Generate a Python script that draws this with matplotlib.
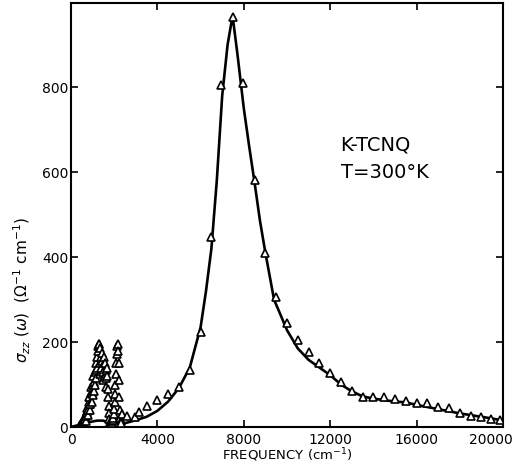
import matplotlib
matplotlib.use("Agg")
import matplotlib.pyplot as plt
import matplotlib.transforms as mtransforms

# measured points, low-frequency region (dense vibronic structure), 20 cm-1 apart
lf_freq = [400, 420, 440, 460, 480, 500, 520, 540, 560, 580, 600, 620, 640,
           660, 680, 700, 720, 740, 760, 780, 800, 820, 840, 860, 880, 900,
           920, 940, 960, 980, 1000, 1020, 1040, 1060, 1080, 1100, 1120, 1140,
           1160, 1180, 1200, 1220, 1240, 1260, 1280, 1300, 1320, 1340, 1360,
           1380, 1400, 1420, 1440, 1460, 1480, 1500, 1520, 1540, 1560, 1580,
           1600, 1620, 1640, 1660, 1680, 1700, 1720, 1740, 1760, 1780, 1800,
           1820, 1840, 1860, 1880, 1900, 1920, 1940, 1960, 1980, 2000, 2020,
           2040, 2060, 2080, 2100, 2120, 2140, 2160, 2180, 2200, 2220, 2240,
           2260, 2280, 2300, 2320]
lf_sigma = [4, 5, 6, 7, 8, 9, 10, 12, 14, 16, 18, 22, 26,
            20, 15, 25, 38, 45, 35, 28, 40, 58, 70, 55, 40, 55,
            80, 95, 80, 60, 75, 100, 120, 105, 85, 100, 130, 150,
            135, 115, 140, 165, 180, 190, 195, 195, 185, 150, 125,
            140, 165, 175, 155, 130, 110, 130, 150, 165, 150, 120,
            95, 115, 135, 140, 120, 90, 70, 50, 32, 20, 12,
            8, 6, 6, 8, 10, 13, 17, 22, 30, 42, 58,
            78, 100, 125, 150, 172, 190, 195, 180, 150, 110, 70,
            40, 22, 14, 10]

# measured points, electronic band
hf_freq = [2350, 2600, 2950, 3150, 3500, 4000, 4500, 5000, 5500, 6000, 6500,
           6950, 7480, 7950, 8500, 9000, 9470, 10000, 10500, 11000, 11500,
           12000, 12500, 13000, 13500, 14000, 14500, 15000, 15500, 16000,
           16500, 17000, 17500, 18000, 18500, 19000, 19450, 19870]
hf_sigma = [30, 27, 24, 35, 49, 64, 78, 93, 134, 224, 448,
            805, 965, 809, 581, 409, 307, 244, 205, 177, 150,
            128, 107, 85, 70, 70, 70, 65, 62, 56,
            56, 46, 44, 32, 26, 23, 18, 16]

# calculated curve
fit_freq = [0, 300, 600, 900, 1200, 1500, 1700, 1800, 1900, 2000, 2100, 2200,
            2300, 2500, 3000, 3500, 4000, 4500, 5000, 5500, 6000, 6250, 6500,
            6750, 7000, 7250, 7480, 7700, 8000, 8250, 8500, 8750, 9000, 9400,
            10000, 10500, 11000, 11500, 12000, 12500, 13000, 13500, 14000,
            14500, 15000, 15500, 16000, 16500, 17000, 17500, 18000, 18500,
            19000, 19500, 20000]
fit_sigma = [0, 4, 8, 12, 15, 15, 10, 6, 10, 20, 25, 12,
             6, 9, 16, 24, 38, 60, 92, 140, 235, 320, 420,
             580, 780, 900, 968, 880, 750, 660, 575, 485, 410, 300,
             228, 185, 158, 140, 122, 100, 84, 72, 67,
             63, 60, 58, 52, 47, 42, 37, 32, 28,
             24, 20, 15]

fig = plt.figure(figsize=(5.16, 4.65), dpi=100)
ax = fig.add_axes([71 / 516, 1 - 427 / 465, 432 / 516, 424 / 465])

ax.plot(fit_freq, fit_sigma, color="black", lw=1.9, zorder=2)
ax.plot(lf_freq, lf_sigma, ls="none", marker="^", ms=6, mfc="white",
        mec="black", mew=1.2, zorder=3)
ax.plot(hf_freq, hf_sigma, ls="none", marker="^", ms=6, mfc="white",
        mec="black", mew=1.2, zorder=3)

ax.set_xlim(0, 20000)
ax.set_ylim(0, 998)
ax.set_xticks([0, 4000, 8000, 12000, 16000, 20000])
ax.set_yticks([0, 200, 400, 600, 800])
ax.tick_params(direction="in", length=5, width=1.2, top=True, right=True,
               labelsize=10)
ax.tick_params(axis="x", pad=4)
ax.tick_params(axis="y", pad=2)
for s in ax.spines.values():
    s.set_linewidth(1.5)

# last x label sits a bit left of its tick, as in the original
last = ax.get_xticklabels()[-1]
last.set_transform(last.get_transform() +
                   mtransforms.ScaledTranslation(-12 / 100, 0, fig.dpi_scale_trans))

ax.set_xlabel(r"FREQUENCY (cm$^{-1}$)", fontsize=9.5, labelpad=0)
fig.text(0.043, 1 - 290 / 465,
         r"$\sigma_{zz}\ (\omega)\ \ (\Omega^{-1}\ \mathrm{cm}^{-1})$",
         rotation=90, ha="center", va="center", fontsize=11)

ax.text(12480, 663, "K-TCNQ", fontsize=14, va="center")
ax.text(12480, 600, "T=300°K", fontsize=14, va="center")

fig.savefig("out.png", dpi=100)
